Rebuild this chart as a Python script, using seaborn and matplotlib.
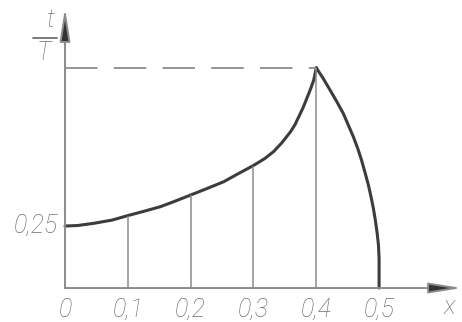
# plot.py
# Technical-drawing style curve t/T vs x, redrawn with seaborn / matplotlib

import matplotlib
matplotlib.use("Agg")
import matplotlib.pyplot as plt
import seaborn as sns
import pandas as pd

# -- Data
rise_x = [0.0, 0.02, 0.046, 0.075, 0.1, 0.125, 0.152, 0.175, 0.2, 0.225, 0.253,
          0.275, 0.3, 0.318, 0.332, 0.345, 0.359, 0.366, 0.372, 0.379, 0.385,
          0.391, 0.396, 0.4]
rise_y = [0.25, 0.252, 0.261, 0.274, 0.292, 0.309, 0.328, 0.35, 0.375, 0.40, 0.429,
          0.46, 0.494, 0.522, 0.55, 0.585, 0.63, 0.658, 0.69, 0.727, 0.765,
          0.803, 0.839, 0.888]
fall_x = [0.4, 0.411, 0.422, 0.433, 0.443, 0.451, 0.459, 0.466, 0.472, 0.478,
          0.483, 0.487, 0.491, 0.494, 0.497, 0.499, 0.5, 0.5, 0.5]
fall_y = [0.888, 0.845, 0.798, 0.75, 0.704, 0.657, 0.610, 0.563, 0.516, 0.462,
          0.415, 0.37, 0.32, 0.274, 0.22, 0.173, 0.12, 0.073, 0.0]

grid_x = [0.1, 0.2, 0.3, 0.4]
grid_top = [0.292, 0.375, 0.494, 0.888]

xtick_vals = [0, 0.1, 0.2, 0.3, 0.4, 0.5]
xtick_labels = ["0", "0,1", "0,2", "0,3", "0,4", "0,5"]
ytick_vals = [0.25]
ytick_labels = ["0,25"]

PEAK = 0.888

# -- Style
AXIS_COL = "#8c8c8c"
CURVE_COL = "#3c3c3c"
TEXT_COL = "#707070"
FONT = ["Roboto", "DejaVu Sans"]

sns.set_style("white")
plt.rcParams["font.family"] = FONT

fig = plt.figure(figsize=(4.62, 3.22), dpi=100)
ax = fig.add_axes([0, 0, 1, 1])
ax.set_xlim(-0.1035, 0.632)
ax.set_ylim(-0.137, 1.1613)
ax.axis("off")

# curve
rise = pd.DataFrame({"x": rise_x, "y": rise_y})
fall = pd.DataFrame({"x": fall_x, "y": fall_y})
sns.lineplot(data=rise, x="x", y="y", ax=ax, color=CURVE_COL, lw=2.2,
             estimator=None, sort=False)
sns.lineplot(data=fall, x="x", y="y", ax=ax, color=CURVE_COL, lw=2.2,
             estimator=None, sort=False)

# vertical ordinates
ax.vlines(grid_x, 0, grid_top, color=AXIS_COL, lw=1.1)

# dashed line to the peak
ax.hlines(PEAK, 0, 0.4, color=AXIS_COL, lw=1.3, linestyles=(0, (18, 9)))

# axes with arrows
arrow = dict(arrowstyle="-|>,head_length=20,head_width=3.2", mutation_scale=1,
             color=AXIS_COL, lw=1.4, shrinkA=0, shrinkB=0, fc="#333333", ec=AXIS_COL)
ax.annotate("", xy=(0.632, 0), xytext=(0, 0), arrowprops=arrow)
ax.annotate("", xy=(0, 1.129), xytext=(0, 0), arrowprops=arrow)

# tick labels
tk = dict(color=TEXT_COL, fontsize=18, style="italic", weight="light", family=FONT)
for v, s in zip(xtick_vals, xtick_labels):
    ax.text(v, -0.088, s, ha="center", va="center", **tk)
for v, s in zip(ytick_vals, ytick_labels):
    ax.text(-0.011, v, s, ha="right", va="center", **tk)

# axis labels
ax.text(0.612, -0.078, "x", ha="center", va="center", **tk)
fig.text(50 / 462, 1 - 20 / 322, "t", ha="center", va="center", **tk)
fig.text(44 / 462, 1 - 53 / 322, "T", ha="center", va="center", **tk)
fig.add_artist(plt.Line2D([33 / 462, 57 / 462], [1 - 38 / 322] * 2,
                          color=TEXT_COL, lw=1.3))

plt.savefig("out.png", dpi=100)
plt.close()
